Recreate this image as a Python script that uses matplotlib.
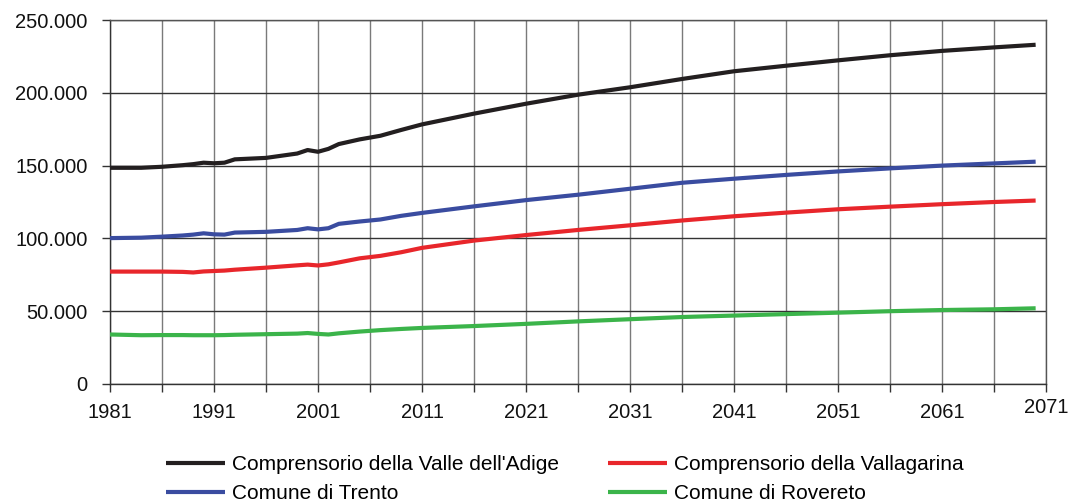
import matplotlib
matplotlib.use("Agg")
import matplotlib.pyplot as plt
import matplotlib.transforms as mtransforms
from matplotlib.ticker import FuncFormatter

years = [1981, 1984, 1986, 1988, 1989, 1990, 1991, 1992, 1993, 1996, 1999, 2000,
         2001, 2002, 2003, 2005, 2007, 2009, 2011, 2016, 2021, 2026, 2031, 2036,
         2041, 2046, 2051, 2056, 2061, 2066, 2070]

valle_adige = [148.5, 148.5, 149.2, 150.3, 151.0, 152.0, 151.6, 152.0, 154.3, 155.3, 158.3, 160.7,
               159.5, 161.5, 164.8, 168.0, 170.5, 174.5, 178.3, 185.7, 192.5, 198.7, 203.8, 209.5,
               214.8, 218.6, 222.3, 225.8, 228.8, 231.2, 233.0]
trento = [100.2, 100.5, 101.2, 102.0, 102.6, 103.5, 102.8, 102.6, 104.0, 104.5, 105.8, 107.0,
          106.2, 107.0, 110.0, 111.6, 113.0, 115.5, 117.5, 122.0, 126.3, 130.0, 134.1, 138.2,
          141.0, 143.6, 146.0, 148.1, 150.0, 151.5, 152.7]
vallagarina = [77.2, 77.2, 77.2, 77.0, 76.6, 77.3, 77.6, 77.9, 78.5, 79.9, 81.5, 82.0,
               81.4, 82.2, 83.5, 86.3, 88.0, 90.5, 93.5, 98.5, 102.3, 105.8, 109.0, 112.3,
               115.2, 117.7, 120.0, 121.8, 123.5, 125.0, 126.0]
rovereto = [34.0, 33.5, 33.6, 33.6, 33.5, 33.5, 33.5, 33.6, 33.8, 34.2, 34.6, 35.0,
            34.4, 34.0, 34.8, 36.0, 37.0, 37.8, 38.5, 39.8, 41.3, 43.0, 44.5, 46.0,
            47.0, 48.0, 49.0, 50.0, 50.8, 51.3, 52.0]

labels = ["Comprensorio della Valle dell'Adige", "Comune di Trento",
          "Comprensorio della Vallagarina", "Comune di Rovereto"]
series = [valle_adige, trento, vallagarina, rovereto]
colors = ["#231f20", "#3a4ca0", "#e8262b", "#3bb44a"]

x_ticks = list(range(1981, 2072, 5))
x_labels = [1981, 1991, 2001, 2011, 2021, 2031, 2041, 2051, 2061, 2071]
y_ticks = [0, 50000, 100000, 150000, 200000, 250000]

plt.rcParams['font.family'] = ['Liberation Sans', 'DejaVu Sans']

fig = plt.figure(figsize=(10.86, 5.03), dpi=100)
ax = fig.add_axes([0.1013, 0.2366, 0.8619, 0.7236])

for vals, lab, col in zip(series, labels, colors):
    ax.plot(years, [v * 1000 for v in vals], color=col, lw=3.0, label=lab,
            solid_capstyle='butt', zorder=3)

ax.set_xlim(1981, 2071)
ax.set_ylim(0, 250000)
ax.set_xticks(x_ticks)
ax.set_xticklabels([str(t) if t in x_labels else "" for t in x_ticks])
ax.set_yticks(y_ticks)
ax.yaxis.set_major_formatter(FuncFormatter(lambda v, p: f"{int(v):,}".replace(",", ".")))

ax.grid(axis='x', color='#7a7a7a', lw=1.0, zorder=1)
ax.grid(axis='y', color='#333333', lw=1.0, zorder=1)

for s in ['top', 'right']:
    ax.spines[s].set_color('#555555')
    ax.spines[s].set_linewidth(1.0)
for s in ['left', 'bottom']:
    ax.spines[s].set_color('#333333')
    ax.spines[s].set_linewidth(1.0)

ax.tick_params(axis='both', direction='out', length=6, width=1, color='#333333',
               labelsize=14.5, labelcolor='#111111')
ax.tick_params(axis='x', pad=8)
ax.tick_params(axis='y', pad=10)

# raise the last x label slightly like the reference
last = ax.get_xticklabels()[-1]
last.set_transform(last.get_transform() + mtransforms.ScaledTranslation(0, 5 / 100, fig.dpi_scale_trans))

leg = fig.legend(loc='upper left', bbox_to_anchor=(0.1529, 0.095), ncol=2, frameon=False,
                 fontsize=15, handlelength=2.84, handletextpad=0.33, columnspacing=2.35,
                 labelspacing=0.46, borderaxespad=0, borderpad=0)
for h in leg.get_lines():
    h.set_linewidth(3.0)

fig.savefig("out.png", dpi=100)
